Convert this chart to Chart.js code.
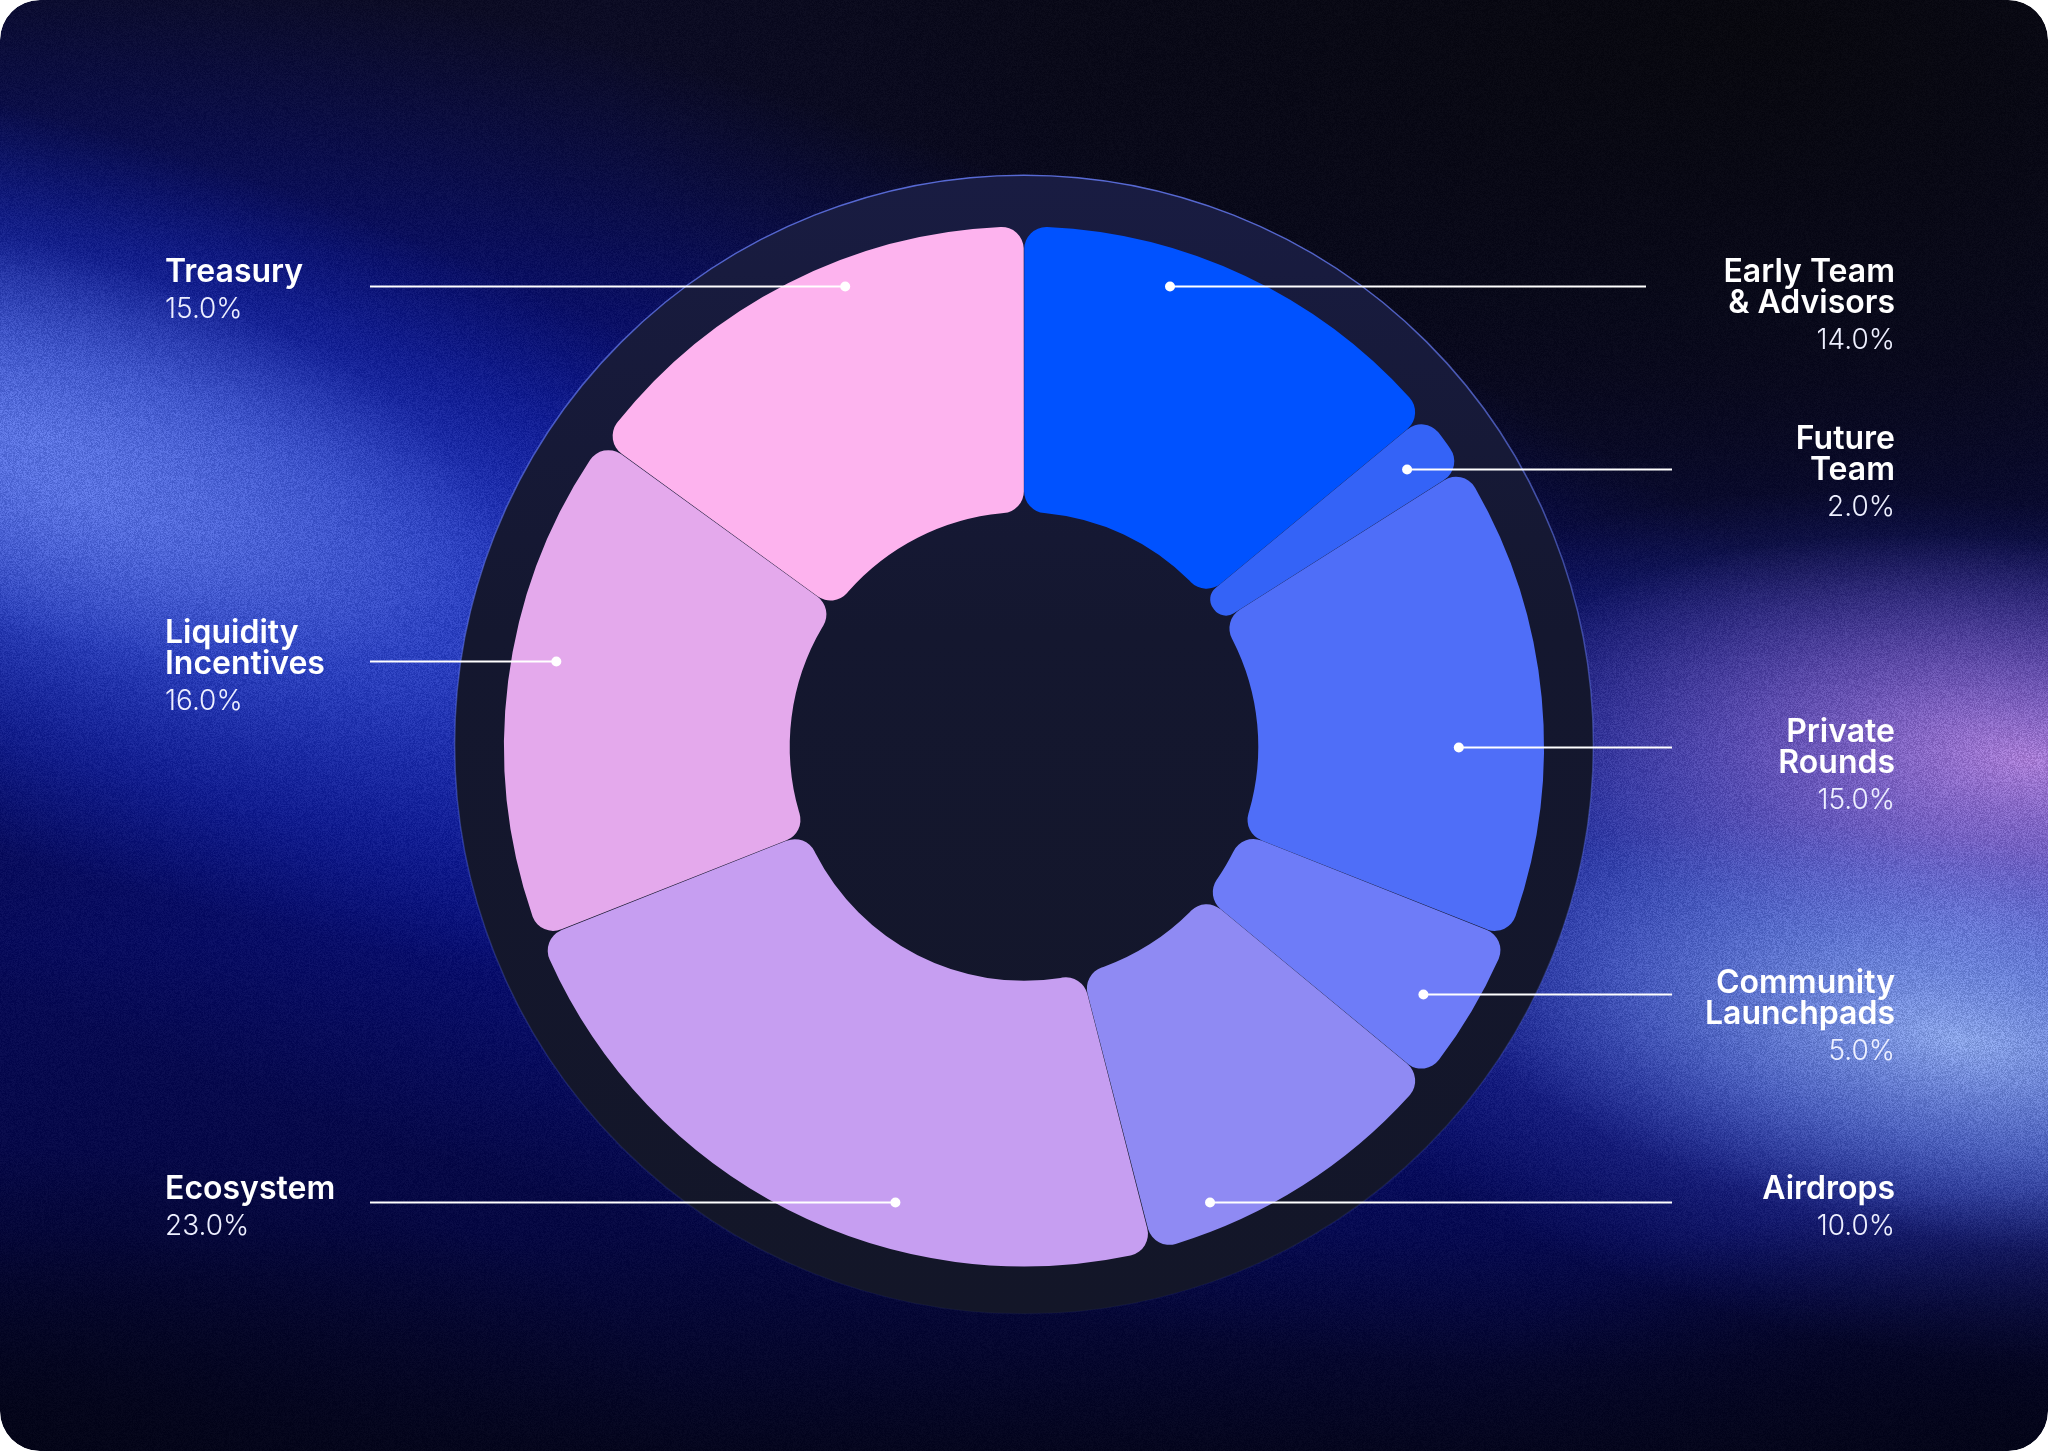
<!DOCTYPE html>
<html><head><meta charset="utf-8">
<script src="https://cdn.jsdelivr.net/npm/chart.js@4.4.1/dist/chart.umd.min.js"></script>
<style>
html,body{margin:0;padding:0;background:#ffffff;}
#wrap{position:relative;width:2048px;height:1451px;}
canvas{display:block;}
</style></head><body>
<div id="wrap"><canvas id="c" width="2048" height="1451"></canvas></div>
<script>
// ---- data ----
const categories = ['Early Team & Advisors','Future Team','Private Rounds','Community Launchpads','Airdrops','Ecosystem','Liquidity Incentives','Treasury'];
const labelLines = [['Early Team','& Advisors'],['Future','Team'],['Private','Rounds'],['Community','Launchpads'],['Airdrops'],['Ecosystem'],['Liquidity','Incentives'],['Treasury']];
const shares = [14.0, 2.0, 15.0, 5.0, 10.0, 23.0, 16.0, 15.0];
const sliceColors = ['#0052ff','#3463f7','#4f6ef8','#6e7cf8','#8f8af3','#c69ef1','#e4a9ec','#fdb3ee'];

// ---- callout layout (px, relative to chart centre) ----
const calloutSide   = ['right','right','right','right','right','left','left','left'];
const calloutLineDy = [-460,-277,1,248,456,456,-85,-460];
const calloutTextDy = [-5,-21,-6,-2,-4,-4,-19,-5];
const calloutDotR   = [0.929,0.910,0.837,0.905,0.948,0.912,0.915,0.950];
const calloutLineOuter = [622,648,648,648,648,654,654,654];

const backgroundPlugin = {
  id:'bg',
  beforeDraw(chart){
    const ctx = chart.ctx, W = chart.width, H = chart.height;
    ctx.save();
    ctx.beginPath();
    ctx.roundRect(0,0,W,H,40);
    ctx.clip();
    let g = ctx.createLinearGradient(0,0,0,H);
    g.addColorStop(0,'#0c0c24');
    g.addColorStop(0.3,'#0a0b32');
    g.addColorStop(0.65,'#080b58');
    g.addColorStop(0.85,'#060842');
    g.addColorStop(1,'#05061e');
    ctx.fillStyle = g; ctx.fillRect(0,0,W,H);
    function glow(x,y,rx,ry,rot,stops){
      ctx.save();
      ctx.translate(x,y); ctx.rotate(rot*Math.PI/180); ctx.scale(rx/100, ry/100);
      const rg = ctx.createRadialGradient(0,0,0,0,0,100);
      stops.forEach(s=>rg.addColorStop(s[0],s[1]));
      ctx.fillStyle = rg;
      ctx.beginPath(); ctx.arc(0,0,100,0,Math.PI*2); ctx.fill();
      ctx.restore();
    }
    // top right darkness
    glow(1750,30,1150,580,0,[[0,'rgba(8,8,14,0.96)'],[0.6,'rgba(8,8,16,0.6)'],[1,'rgba(8,8,16,0)']]);
    // wide navy band (diagonal)
    glow(650,640,1600,560,18,[[0,'rgba(12,22,165,0.9)'],[0.55,'rgba(10,18,135,0.6)'],[1,'rgba(10,18,120,0)']]);
    // left blue band
    glow(80,500,1150,360,18,[[0,'rgba(78,102,218,0.95)'],[0.35,'rgba(55,80,210,0.75)'],[0.7,'rgba(30,50,190,0.4)'],[1,'rgba(20,40,180,0)']]);
    glow(40,440,480,190,16,[[0,'rgba(100,125,232,0.75)'],[1,'rgba(100,125,232,0)']]);
    // right broad blue/purple field
    glow(1980,930,780,430,8,[[0,'rgba(110,125,220,0.9)'],[0.5,'rgba(70,85,200,0.6)'],[1,'rgba(40,50,180,0)']]);
    // purple
    glow(2030,760,540,220,6,[[0,'rgba(178,130,218,0.92)'],[0.5,'rgba(140,100,200,0.5)'],[1,'rgba(110,80,190,0)']]);
    // light blue
    glow(1960,1040,540,200,10,[[0,'rgba(150,178,240,0.85)'],[0.5,'rgba(110,140,225,0.5)'],[1,'rgba(80,110,215,0)']]);
    // bottom corners darker
    glow(0,1451,700,300,0,[[0,'rgba(4,5,22,0.8)'],[1,'rgba(4,5,22,0)']]);
    glow(2048,1451,600,260,0,[[0,'rgba(4,5,22,0.7)'],[1,'rgba(4,5,22,0)']]);
    // subtle grain (deterministic hash)
    const img = ctx.getImageData(0,0,W,H), d = img.data;
    for(let y=0;y<H;y++){
      for(let x=0;x<W;x++){
        let h = (x*374761393 + y*668265263)|0;
        h = Math.imul(h ^ (h>>>13), 1274126177);
        h = (h ^ (h>>>16)) & 255;
        const i = (y*W+x)*4;
        const lum = (d[i]+d[i+1]+d[i+2])/3;
        const amp = 4 + lum*0.22;
        const n = (h/255 - 0.5)*amp;
        d[i] = Math.max(0,Math.min(255,d[i]+n));
        d[i+1] = Math.max(0,Math.min(255,d[i+1]+n));
        d[i+2] = Math.max(0,Math.min(255,d[i+2]+n));
      }
    }
    ctx.putImageData(img,0,0);
    ctx.restore();
    // white corners outside the card
    ctx.save();
    ctx.fillStyle = '#ffffff';
    ctx.beginPath();
    ctx.rect(0,0,W,H);
    ctx.roundRect(0,0,W,H,40);
    ctx.fill('evenodd');
    ctx.restore();
  }
};

const ringPlugin = {
  id:'ring',
  beforeDatasetsDraw(chart){
    const arc = chart.getDatasetMeta(0).data[0];
    if(!arc) return;
    const ctx = chart.ctx, cx = arc.x, cy = arc.y, R = arc.outerRadius*1.096;
    ctx.save();
    const g = ctx.createLinearGradient(0,cy-R,0,cy+R);
    g.addColorStop(0,'#191c42');
    g.addColorStop(0.4,'#14172f');
    g.addColorStop(1,'#131628');
    ctx.fillStyle = g;
    ctx.beginPath(); ctx.arc(cx,cy-2,R,0,Math.PI*2); ctx.fill();
    const s = ctx.createLinearGradient(0,cy-R,0,cy+R);
    s.addColorStop(0,'rgba(95,115,230,0.9)');
    s.addColorStop(0.6,'rgba(95,115,230,0.35)');
    s.addColorStop(1,'rgba(95,115,230,0.05)');
    ctx.strokeStyle = s; ctx.lineWidth = 1.5;
    ctx.stroke();
    ctx.restore();
  }
};

const calloutPlugin = {
  id:'callouts',
  afterDatasetsDraw(chart){
    const meta = chart.getDatasetMeta(0);
    const arc = meta.data[0];
    if(!arc) return;
    const ctx = chart.ctx, cx = arc.x, cy = arc.y, R = arc.outerRadius;
    ctx.save();
    categories.forEach((name,i)=>{
      const sign = calloutSide[i]==='right'?1:-1;
      const dy = calloutLineDy[i];
      const r = calloutDotR[i]*R;
      const dx = Math.sqrt(Math.max(r*r-dy*dy,0));
      const dotX = cx + sign*dx, y = cy + dy;
      const endX = cx + sign*calloutLineOuter[i];
      ctx.strokeStyle = '#ffffff'; ctx.lineWidth = 2;
      ctx.beginPath(); ctx.moveTo(dotX,y); ctx.lineTo(endX,y); ctx.stroke();
      ctx.fillStyle = '#ffffff';
      ctx.beginPath(); ctx.arc(dotX,y,5,0,Math.PI*2); ctx.fill();
      const tx = sign>0 ? cx+871 : cx-859;
      ctx.textAlign = sign>0 ? 'right' : 'left';
      ctx.textBaseline = 'alphabetic';
      let by = y + calloutTextDy[i];
      ctx.font = '600 32px Inter';
      labelLines[i].forEach((ln,k)=>{ ctx.fillText(ln, tx, by + k*31); });
      by += (labelLines[i].length-1)*31 + 36;
      ctx.font = '300 28px Inter';
      ctx.fillStyle = '#eef0ff';
      ctx.fillText(shares[i].toFixed(1)+'%', tx, by);
    });
    ctx.restore();
  }
};

new Chart(document.getElementById('c'),{
  type:'doughnut',
  data:{labels:categories,datasets:[{data:shares,backgroundColor:sliceColors,borderWidth:0,borderRadius:22,spacing:1,hoverOffset:0}]},
  options:{
    responsive:false, animation:false, events:[],
    cutout:'45%',
    layout:{padding:{left:504,right:504,top:226,bottom:184}},
    plugins:{legend:{display:false},tooltip:{enabled:false}}
  },
  plugins:[backgroundPlugin, ringPlugin, calloutPlugin]
});
</script>
</body></html>
